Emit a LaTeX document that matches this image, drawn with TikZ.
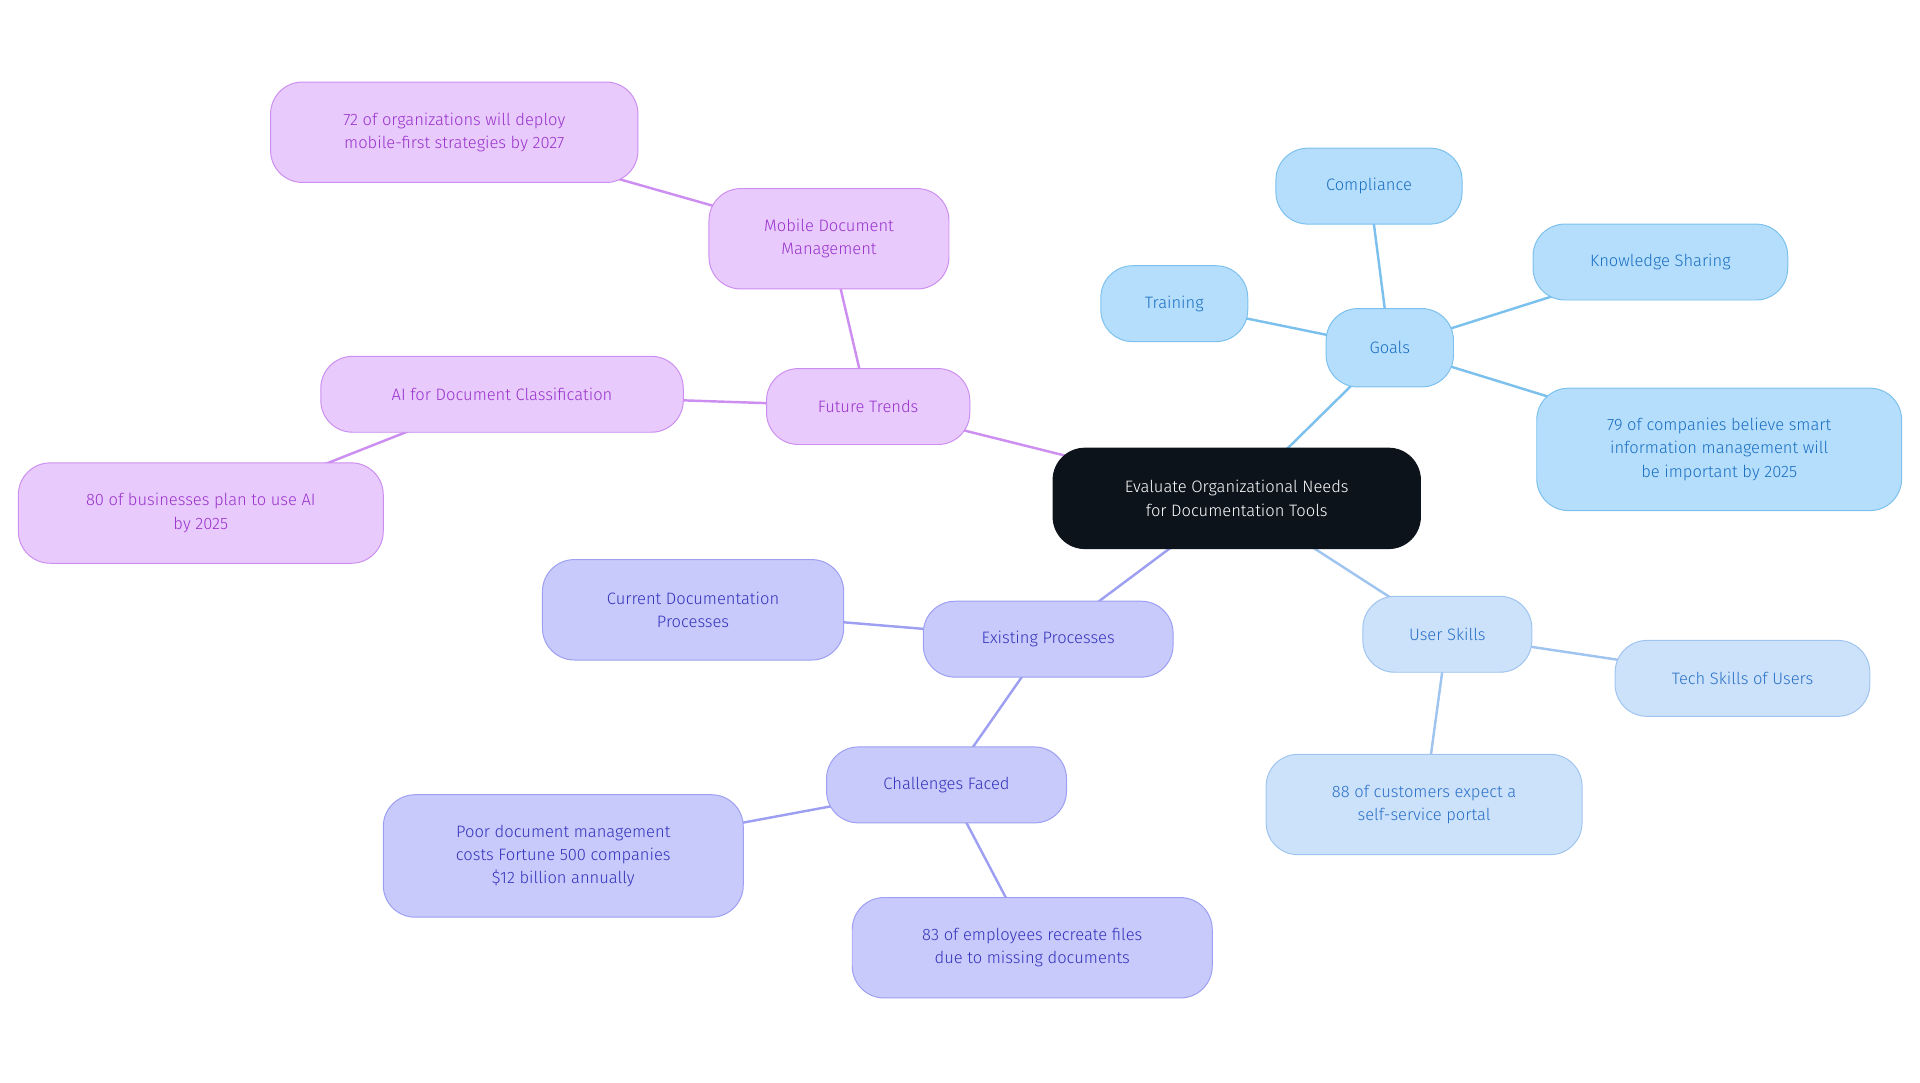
\documentclass[tikz,border=0pt]{standalone}
\usepackage{fontspec}
\setmainfont{Fira Sans Light}[BoldFont=Fira Sans]
\usetikzlibrary{backgrounds}
\definecolor{cb}{HTML}{0D131B}
\definecolor{gfill}{HTML}{B5DEFD}\definecolor{gline}{HTML}{7CC0EE}\definecolor{gtext}{HTML}{1A6FC0}
\definecolor{ufill}{HTML}{CCE2FA}\definecolor{uline}{HTML}{A0C4F0}\definecolor{utext}{HTML}{2A70C8}
\definecolor{efill}{HTML}{C8CAFC}\definecolor{eline}{HTML}{9D9FF2}\definecolor{etext}{HTML}{3333BB}
\definecolor{ffill}{HTML}{E8CAFC}\definecolor{fline}{HTML}{CC8EF0}\definecolor{ftext}{HTML}{9933CC}
\begin{document}
\begin{tikzpicture}[x=1pt,y=-1pt,
  base/.style={rounded corners=26pt,align=center,font=\fontsize{13.5pt}{19pt}\selectfont,inner sep=0pt,line width=0.8pt},
  gb/.style={base,fill=gfill,draw=gline,text=gtext},
  ub/.style={base,fill=ufill,draw=uline,text=utext},
  eb/.style={base,fill=efill,draw=eline,text=etext},
  fb/.style={base,fill=ffill,draw=fline,text=ftext},
  cb/.style={base,fill=cb,draw=cb,text=white},
  ge/.style={gline,line width=2pt},
  ue/.style={uline,line width=2pt},
  ee/.style={eline,line width=2pt},
  fe/.style={fline,line width=2pt}]
\useasboundingbox (0,0) rectangle (1568,884);
\node[cb,minimum width=300,minimum height=82] (c) at (1010,407) {Evaluate Organizational Needs\\for Documentation Tools};
\node[gb,minimum width=104,minimum height=64] (g) at (1135,284) {Goals};
\node[gb,minimum width=152,minimum height=62] (g1) at (1118,152) {Compliance};
\node[gb,minimum width=208,minimum height=62] (g2) at (1356,214) {Knowledge Sharing};
\node[gb,minimum width=120,minimum height=62] (g3) at (959,248) {Training};
\node[gb,minimum width=298,minimum height=100] (g4) at (1404,367) {79 of companies believe smart\\information management will\\be important by 2025};
\node[ub,minimum width=138,minimum height=62] (u) at (1182,518) {User Skills};
\node[ub,minimum width=208,minimum height=62] (u1) at (1423,554) {Tech Skills of Users};
\node[ub,minimum width=258,minimum height=82] (u2) at (1163,657) {88 of customers expect a\\self-service portal};
\node[eb,minimum width=204,minimum height=62] (e) at (856,522) {Existing Processes};
\node[eb,minimum width=246,minimum height=82] (e1) at (566,498) {Current Documentation\\Processes};
\node[eb,minimum width=196,minimum height=62] (e2) at (773,641) {Challenges Faced};
\node[eb,minimum width=294,minimum height=100] (e3) at (460,699) {Poor document management\\costs Fortune 500 companies\\\$12 billion annually};
\node[eb,minimum width=294,minimum height=82] (e4) at (843,774) {83 of employees recreate files\\due to missing documents};
\node[fb,minimum width=166,minimum height=62] (f) at (709,332) {Future Trends};
\node[fb,minimum width=196,minimum height=82] (f1) at (677,195) {Mobile Document\\Management};
\node[fb,minimum width=300,minimum height=82] (f2) at (371,108) {72 of organizations will deploy\\mobile-first strategies by 2027};
\node[fb,minimum width=296,minimum height=62] (f3) at (410,322) {AI for Document Classification};
\node[fb,minimum width=298,minimum height=82] (f4) at (164,419) {80 of businesses plan to use AI\\by 2025};
\begin{scope}[on background layer]
\draw[ge] (c.center) -- (g.center);
\draw[ge] (g.center) -- (g1.center);
\draw[ge] (g.center) -- (g2.center);
\draw[ge] (g.center) -- (g3.center);
\draw[ge] (g.center) -- (g4.center);
\draw[ue] (c.center) -- (u.center);
\draw[ue] (u.center) -- (u1.center);
\draw[ue] (u.center) -- (u2.center);
\draw[ee] (c.center) -- (e.center);
\draw[ee] (e.center) -- (e1.center);
\draw[ee] (e.center) -- (e2.center);
\draw[ee] (e2.center) -- (e3.center);
\draw[ee] (e2.center) -- (e4.center);
\draw[fe] (c.center) -- (f.center);
\draw[fe] (f.center) -- (f1.center);
\draw[fe] (f1.center) -- (f2.center);
\draw[fe] (f.center) -- (f3.center);
\draw[fe] (f3.center) -- (f4.center);
\end{scope}
\end{tikzpicture}
\end{document}
